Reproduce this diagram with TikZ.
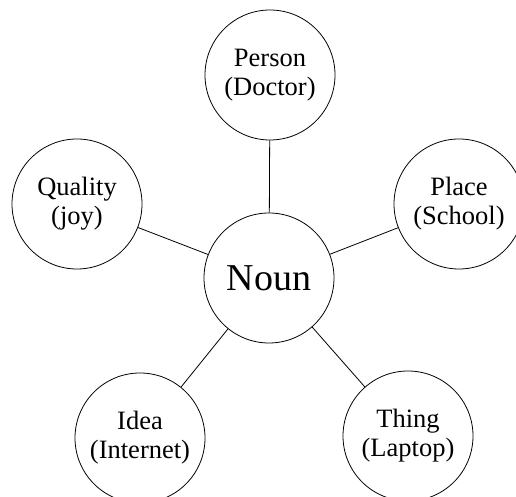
\documentclass[tikz,border=0pt]{standalone}
\usepackage{fontspec}
\setmainfont{Liberation Serif}
\usepackage{tikz}

\begin{document}
\begin{tikzpicture}[x=1pt, y=1pt,
  every node/.style={font=\fontsize{26.5}{29}\selectfont},
  kind/.style={circle, draw=black, line width=0.8pt, fill=white, inner sep=0pt, minimum size=130pt, align=center}]
\clip (0,0) rectangle (516,497);
\useasboundingbox (0,0) rectangle (516,497);
% centre
\node[kind, font=\fontsize{38}{40}\selectfont] (noun) at (269,219) {Noun};
% kinds of noun
\node[kind] (person) at (270,422) {Person\\(Doctor)};
\node[kind] (quality) at (77,293) {Quality\\(joy)};
\node[kind] (place) at (459,293) {Place\\(School)};
\node[kind] (idea) at (140,59) {Idea\\(Internet)};
\node[kind] (thing) at (408,61) {Thing\\(Laptop)};
\foreach \k in {person, quality, place, idea, thing}
  \draw[line width=0.8pt] (noun) -- (\k);
\end{tikzpicture}
\end{document}
